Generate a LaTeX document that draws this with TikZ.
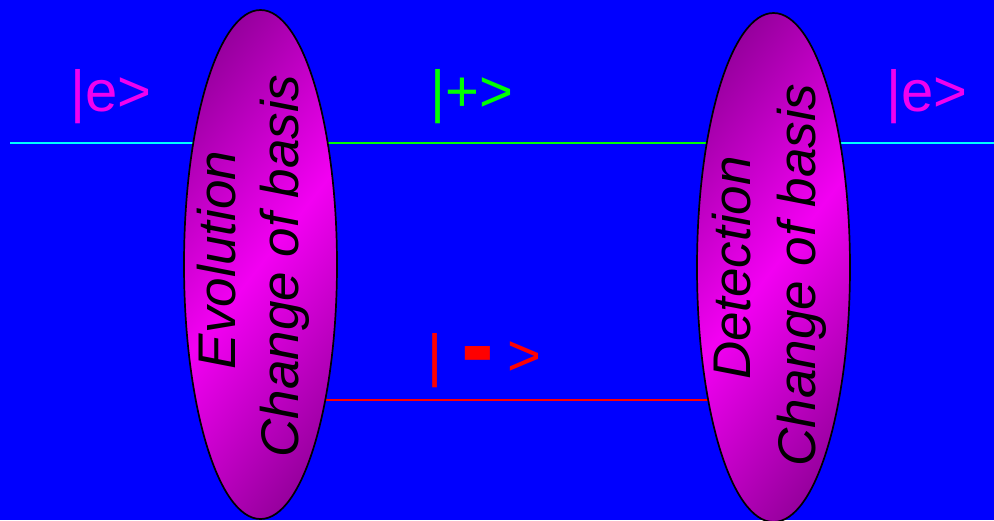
\documentclass[tikz,border=0pt]{standalone}
\usepackage{fontspec}
\setmainfont{Liberation Sans}
\usetikzlibrary{shapes.geometric}
\pgfdeclarelayer{bg}
\pgfdeclarelayer{wires}
\pgfsetlayers{bg,wires,main}
\definecolor{bgblue}{RGB}{0,0,255}
\definecolor{lavdark}{RGB}{140,0,148}
\definecolor{lavbright}{RGB}{242,0,242}
\definecolor{kmag}{RGB}{240,0,240}
\definecolor{kgreen}{RGB}{0,255,0}
\definecolor{kred}{RGB}{255,0,0}
\definecolor{kcyan}{RGB}{0,255,255}
\pgfdeclareverticalshading{blobshade}{100bp}{color(0bp)=(lavdark); color(20bp)=(lavdark); color(50bp)=(lavbright); color(80bp)=(lavdark); color(100bp)=(lavdark)}
\tikzset{
  blob/.style={ellipse, draw=black, line width=1.7pt, inner sep=0pt,
    minimum width=153pt, minimum height=509pt,
    shading=blobshade, shading angle=52},
  blobtext/.style={rotate=90, anchor=base, inner sep=0pt, font=\fontsize{53}{60}\selectfont\itshape, text=black},
  ket/.style={anchor=base, inner sep=0pt, font=\fontsize{58}{66}\selectfont},
  wire/.style={line width=1.8pt}
}
\begin{document}
\begin{tikzpicture}[x=1pt,y=-1pt]
\begin{pgfonlayer}{bg}
\fill[bgblue] (0,0) rectangle (994,520);
\end{pgfonlayer}
\useasboundingbox (0,0) rectangle (994,520);
\node[blob] (e1) at (260.5,264.5) {};
\node[blob] (e2) at (773.5,267.5) {};
\node[blobtext] (t1a) at (235,260) {Evolution};
\node[blobtext] (t1b) at (298,266) {Change of basis};
\node[blobtext] (t2a) at (750,268) {Detection};
\node[blobtext] (t2b) at (815,275) {Change of basis};
\node[ket, text=kmag] (kl) at (111,111) {|e>};
\node[ket, text=kgreen] (kp) at (472,111) {|+>};
\node[ket, text=kred, anchor=base west] (km) at (427,375) {|\hspace{19pt}\raisebox{-8pt}{\scalebox{1.7}[2]{\textbf{-}}}\hspace{13pt}>};
\node[ket, text=kmag] (kr) at (927,111) {|e>};
\coordinate (L) at (10,143);
\coordinate (R) at (994,143);
\coordinate (M) at (0,400);
\begin{pgfonlayer}{wires}
\draw[wire, kcyan] (L) -- (L -| e1.center);
\draw[wire, kgreen] (e1.center |- L) -- (e2.center |- L);
\draw[wire, kcyan] (e2.center |- R) -- (R);
\draw[wire, kred] (e1.center |- M) -- (e2.center |- M);
\end{pgfonlayer}
\end{tikzpicture}
\end{document}
